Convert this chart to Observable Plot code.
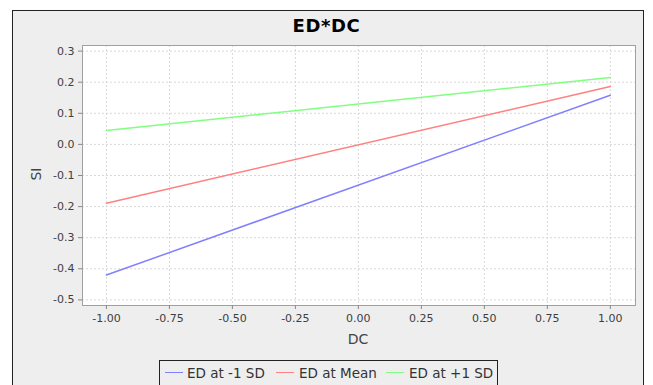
<!DOCTYPE html>
<html>
<head>
<meta charset="utf-8">
<script src="https://cdn.jsdelivr.net/npm/d3@7"></script>
<script src="https://cdn.jsdelivr.net/npm/@observablehq/plot@0.6"></script>
<style>
  html, body { margin: 0; padding: 0; background: #fff; width: 653px; height: 385px; overflow: hidden; font-family: "DejaVu Sans", sans-serif; }
  #panel { position: absolute; left: 12px; top: 10px; width: 630px; height: 400px; border: 1px solid #222; background: #eeeeee; }
  #chart { position: absolute; left: 0; top: 0; }
  .title { position: absolute; left: 0; width: 653px; top: 15px; text-align: center; font: bold 18px "DejaVu Sans", sans-serif; letter-spacing: 0.6px; color: #000; }
  .xlab { position: absolute; left: 308px; width: 100px; top: 331px; text-align: center; font: 14px "DejaVu Sans", sans-serif; color: #444; }
  .ylab { position: absolute; left: -14px; width: 100px; top: 166px; text-align: center; font: 14px "DejaVu Sans", sans-serif; color: #444; transform: rotate(-90deg); }
  #legend { position: absolute; left: 159px; top: 360px; width: 337px; height: 40px; border: 1px solid #222; font: 13.5px "DejaVu Sans", sans-serif; color: #333; }
  .item { position: absolute; top: 4px; white-space: nowrap; }
  .sw { position: absolute; top: 11px; width: 18px; height: 0; border-top: 1.5px solid; }
</style>
</head>
<body>
<div id="panel"></div>
<div id="chart"></div>
<div class="title">ED*DC</div>
<div class="xlab">DC</div>
<div class="ylab">SI</div>
<div id="legend"></div>
<script>
const seriesNames = ["ED at -1 SD", "ED at Mean", "ED at +1 SD"];
const seriesColors = ["#8080ff", "#ff8080", "#80ff80"];
const dcValues = [-1, 1];
const lowSD = [-0.42, 0.158];
const meanSD = [-0.189, 0.186];
const highSD = [0.045, 0.215];
const xTicks = [-1, -0.75, -0.5, -0.25, 0, 0.25, 0.5, 0.75, 1];
const yTicks = [-0.5, -0.4, -0.3, -0.2, -0.1, 0, 0.1, 0.2, 0.3];

const allSeries = [lowSD, meanSD, highSD];
const data = [];
allSeries.forEach((vals, i) => {
  vals.forEach((v, j) => data.push({series: seriesNames[i], dc: dcValues[j], si: v}));
});

const chart = Plot.plot({
  width: 653,
  height: 385,
  marginLeft: 82,
  marginRight: 18,
  marginTop: 45,
  marginBottom: 80,
  style: {background: "transparent", fontFamily: "DejaVu Sans, sans-serif", fontSize: "11px", color: "#404040"},
  x: {domain: [-1.095, 1.1], ticks: xTicks, tickFormat: d => d.toFixed(2), label: null},
  y: {domain: [-0.518, 0.318], ticks: yTicks, tickFormat: d => d.toFixed(1), label: null},
  color: {domain: seriesNames, range: seriesColors},
  marks: [
    Plot.frame({fill: "white", stroke: null}),
    Plot.gridX(xTicks, {stroke: "#d8d8d8", strokeOpacity: 1, strokeDasharray: "2,2"}),
    Plot.gridY(yTicks, {stroke: "#d8d8d8", strokeOpacity: 1, strokeDasharray: "2,2"}),
    Plot.frame({stroke: "#a0a0a0"}),
    Plot.axisX(xTicks, {tickSize: 4, tickPadding: 5, tickFormat: d => d.toFixed(2), stroke: "#888", fill: "#404040", label: null}),
    Plot.axisY(yTicks, {tickSize: 4, tickPadding: 4, tickFormat: d => d.toFixed(1), stroke: "#888", fill: "#404040", label: null}),
    Plot.line(data, {x: "dc", y: "si", z: "series", stroke: "series", strokeWidth: 1.5})
  ]
});
document.getElementById("chart").appendChild(chart);

const legendPos = [{sw: 5, tx: 27}, {sw: 116, tx: 139}, {sw: 226, tx: 249}];
const legend = document.getElementById("legend");
seriesNames.forEach((name, i) => {
  const sw = document.createElement("div");
  sw.className = "sw";
  sw.style.left = legendPos[i].sw + "px";
  sw.style.borderTopColor = seriesColors[i];
  legend.appendChild(sw);
  const t = document.createElement("div");
  t.className = "item";
  t.style.left = legendPos[i].tx + "px";
  t.textContent = name;
  legend.appendChild(t);
});
</script>
</body>
</html>
